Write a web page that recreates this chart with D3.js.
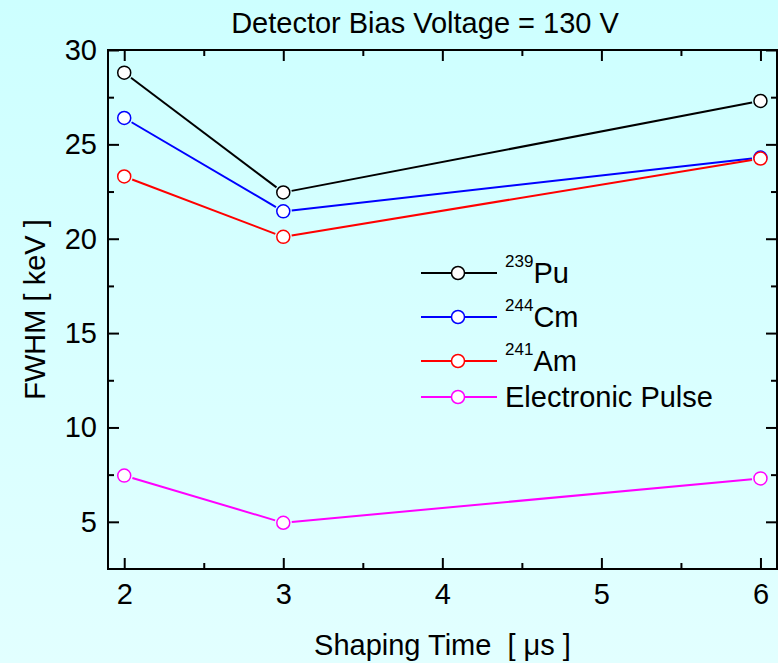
<!DOCTYPE html>
<html>
<head>
<meta charset="utf-8">
<script src="https://cdn.jsdelivr.net/npm/d3@7"></script>
<style>
  body { margin: 0; }
  svg text { font-family: "Liberation Sans", Arial, sans-serif; fill: #000; }
</style>
</head>
<body>
<script>
// data
var shapingTimes = [2, 3, 6];
var pu239 = [28.8, 22.45, 27.3];
var cm244 = [26.4, 21.45, 24.3];
var am241 = [23.3, 20.1, 24.25];
var pulse = [7.45, 4.95, 7.3];

var seriesNames = [["239", "Pu"], ["244", "Cm"], ["241", "Am"], ["", "Electronic Pulse"]];
var seriesColors = ["#000000", "#0000ff", "#ff0000", "#ff00ff"];
var seriesValues = [pu239, cm244, am241, pulse];

var xTicks = [2, 3, 4, 5, 6];
var xMinor = [2.5, 3.5, 4.5, 5.5];
var yTicks = [5, 10, 15, 20, 25, 30];
var yMinor = [7.5, 12.5, 17.5, 22.5, 27.5];

var W = 778, H = 663;
var margin = {top: 50, right: 1, bottom: 94, left: 108};
var width = W - margin.left - margin.right,
    height = H - margin.top - margin.bottom;

var svg = d3.select("body").append("svg")
  .attr("width", W)
  .attr("height", H);

// background gradient
var grad = svg.append("defs").append("linearGradient")
  .attr("id", "bg").attr("x1", 0).attr("y1", 0).attr("x2", 0).attr("y2", 1);
grad.append("stop").attr("offset", "0%").attr("stop-color", "#cdffff");
grad.append("stop").attr("offset", "100%").attr("stop-color", "#e2ffff");
svg.append("rect").attr("width", W).attr("height", H).attr("fill", "url(#bg)");

var g = svg.append("g")
  .attr("transform", "translate(" + margin.left + "," + margin.top + ")");

var x = d3.scaleLinear().domain([1.898, 6.104]).range([0, width]);
var y = d3.scaleLinear().domain([2.5, 30]).range([height, 0]);

// axes, ticks inward on all four sides
function styleAxis(sel) {
  sel.select(".domain").remove();
  sel.selectAll("line").attr("stroke", "#000").attr("stroke-width", 2);
  sel.selectAll("text").style("font-size", "29px");
}

g.append("g").attr("transform", "translate(0," + height + ")")
  .call(d3.axisBottom(x).tickValues(xTicks).tickSizeInner(-11).tickPadding(14).tickFormat(d3.format("d")))
  .call(styleAxis);
g.append("g").attr("transform", "translate(0," + height + ")")
  .call(d3.axisBottom(x).tickValues(xMinor).tickSizeInner(-6).tickFormat(""))
  .call(styleAxis);
g.append("g")
  .call(d3.axisTop(x).tickValues(xTicks).tickSizeInner(-11).tickFormat(""))
  .call(styleAxis);
g.append("g")
  .call(d3.axisTop(x).tickValues(xMinor).tickSizeInner(-6).tickFormat(""))
  .call(styleAxis);

g.append("g")
  .call(d3.axisLeft(y).tickValues(yTicks).tickSizeInner(-11).tickPadding(11).tickFormat(d3.format("d")))
  .call(styleAxis);
g.append("g")
  .call(d3.axisLeft(y).tickValues(yMinor).tickSizeInner(-6).tickFormat(""))
  .call(styleAxis);
g.append("g").attr("transform", "translate(" + width + ",0)")
  .call(d3.axisRight(y).tickValues(yTicks).tickSizeInner(-11).tickFormat(""))
  .call(styleAxis);
g.append("g").attr("transform", "translate(" + width + ",0)")
  .call(d3.axisRight(y).tickValues(yMinor).tickSizeInner(-6).tickFormat(""))
  .call(styleAxis);

// frame
g.append("rect")
  .attr("width", width).attr("height", height)
  .attr("fill", "none").attr("stroke", "#000").attr("stroke-width", 2);

// series: segments stop short of the markers
var r = 6.5, gap = r + 2;
seriesValues.forEach(function(vals, si) {
  var pts = vals.map(function(v, i) { return [x(shapingTimes[i]), y(v)]; });
  var segs = d3.pairs(pts).map(function(p) {
    var dx = p[1][0] - p[0][0], dy = p[1][1] - p[0][1];
    var len = Math.sqrt(dx * dx + dy * dy);
    var ux = dx / len, uy = dy / len;
    return [p[0][0] + ux * gap, p[0][1] + uy * gap, p[1][0] - ux * gap, p[1][1] - uy * gap];
  });
  g.selectAll(".seg" + si).data(segs).enter().append("line")
    .attr("x1", function(d) { return d[0]; })
    .attr("y1", function(d) { return d[1]; })
    .attr("x2", function(d) { return d[2]; })
    .attr("y2", function(d) { return d[3]; })
    .attr("stroke", seriesColors[si])
    .attr("stroke-width", 2);
  g.selectAll(".pt" + si).data(pts).enter().append("circle")
    .attr("cx", function(d) { return d[0]; })
    .attr("cy", function(d) { return d[1]; })
    .attr("r", r)
    .attr("fill", "#fff")
    .attr("stroke", seriesColors[si])
    .attr("stroke-width", 1.5);
});

// legend
var legendRows = [273, 317, 361, 397];
var legend = svg.append("g");
seriesNames.forEach(function(nm, i) {
  var ly = legendRows[i];
  var row = legend.append("g").attr("transform", "translate(421," + ly + ")");
  row.append("line").attr("x1", 0).attr("x2", 76).attr("y1", 0).attr("y2", 0)
    .attr("stroke", seriesColors[i]).attr("stroke-width", 2);
  row.append("circle").attr("cx", 37).attr("cy", 0).attr("r", r)
    .attr("fill", "#fff").attr("stroke", seriesColors[i]).attr("stroke-width", 1.5);
  var t = row.append("text").attr("x", 84).attr("y", 10).style("font-size", "29px");
  if (nm[0]) {
    t.append("tspan").style("font-size", "17px").attr("dy", -16).text(nm[0]);
    t.append("tspan").attr("dy", 16).text(nm[1]);
  } else {
    t.text(nm[1]);
  }
});

// title and axis labels
svg.append("text")
  .attr("x", 425).attr("y", 33)
  .attr("text-anchor", "middle")
  .style("font-size", "29px")
  .text("Detector Bias Voltage = 130 V");

svg.append("text")
  .attr("transform", "translate(45," + (margin.top + height / 2) + ") rotate(-90)")
  .attr("text-anchor", "middle")
  .style("font-size", "29px")
  .text("FWHM [ keV ]");

svg.append("text")
  .attr("x", margin.left + width / 2).attr("y", 655)
  .attr("text-anchor", "middle")
  .style("font-size", "29px")
  .style("white-space", "pre")
  .text("Shaping Time  [ \u03bcs ]");
</script>
</body>
</html>
